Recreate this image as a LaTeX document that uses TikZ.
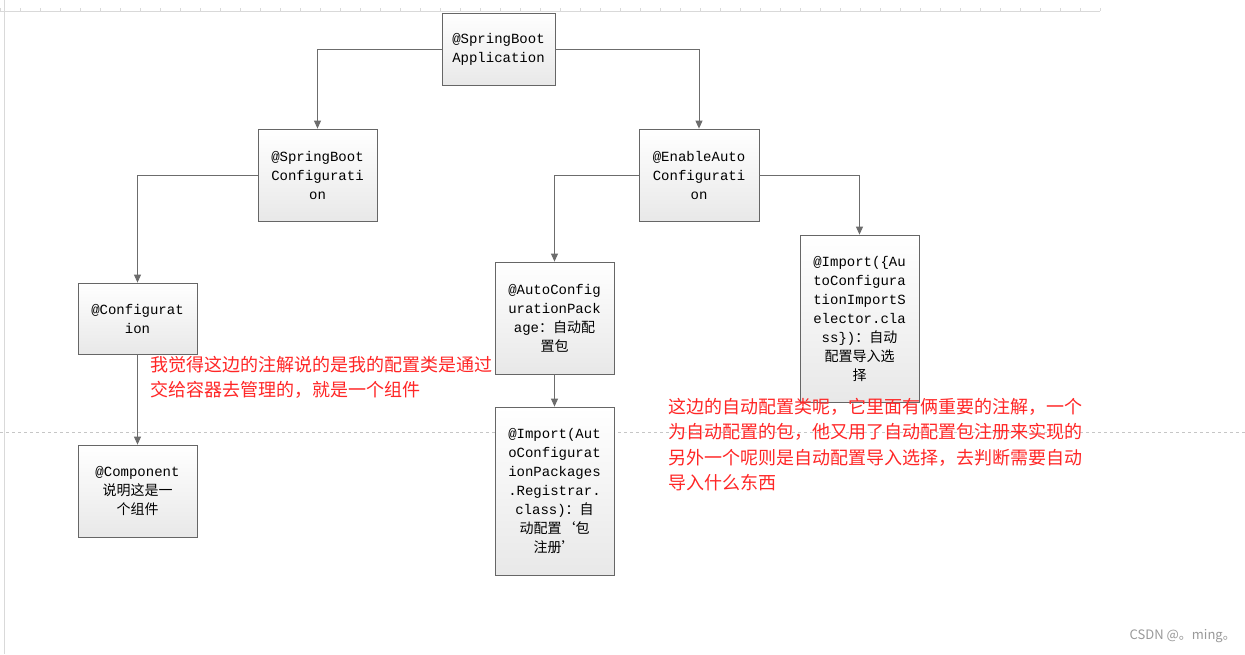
\documentclass[tikz,border=0pt]{standalone}
\usepackage{fontspec}
\setmonofont{Liberation Mono}
\newfontfamily\cjk{Noto Sans CJK SC}
\usetikzlibrary{arrows.meta}
\begin{document}
\begin{tikzpicture}[x=1pt,y=-1pt,
  box/.style={draw=gray!80!black,line width=0.8pt,top color=white,bottom color=gray!18,
    inner sep=0pt,align=center,font=\fontsize{14}{19}\selectfont\ttfamily},
  link/.style={draw=gray!85!black,line width=0.9pt,-{Triangle[length=8pt,width=7pt]}},
  note/.style={text=red!85,font=\fontsize{18}{25.5}\selectfont\cjk,align=left,anchor=north west,inner sep=0pt}]
\useasboundingbox (0,0) rectangle (1245,654);
\fill[white] (0,0) rectangle (1245,654);
\draw[gray!30] (0,11) -- (1100,11);
\foreach \i in {0,20,...,1100} \draw[gray!30] (\i,8) -- (\i,11);
\draw[gray!30] (4,0) -- (4,654);
\draw[gray!45,dashed] (0,432) -- (1245,432);
\node[box,minimum width=113pt,minimum height=72pt] (A) at (498.5,49) {@SpringBoot\\Application};
\node[box,minimum width=119pt,minimum height=92pt] (B) at (317.5,175) {@SpringBoot\\Configurati\\on};
\node[box,minimum width=120pt,minimum height=92pt] (C) at (699,175) {@EnableAuto\\Configurati\\on};
\node[box,minimum width=119pt,minimum height=71pt] (D) at (137.5,318.5) {@Configurat\\ion};
\node[box,minimum width=119pt,minimum height=112pt] (E) at (554.5,318) {@AutoConfig\\urationPack\\age{\cjk ：自动配}\\{\cjk 置包}};
\node[box,minimum width=119pt,minimum height=167pt] (F) at (859.5,318.5) {@Import(\{Au\\toConfigura\\tionImportS\\elector.cla\\ss\})\cjk：自动\\\cjk 配置导入选\\\cjk 择};
\node[box,minimum width=119pt,minimum height=92pt] (G) at (137.5,491) {@Component\\\cjk 说明这是一\\\cjk 个组件};
\node[box,minimum width=119pt,minimum height=168pt] (H) at (554.5,491) {@Import(Aut\\oConfigurat\\ionPackages\\.Registrar.\\class)\cjk：自\\\cjk 动配置‘包\\\cjk 注册’};
\draw[link] (A.west) -| (B.north);
\draw[link] (A.east) -| (C.north);
\draw[link] (B.west) -| (D.north);
\draw[link] (C.west) -| (E.north);
\draw[link] (C.east) -| (F.north);
\draw[link] (D) -- (G);
\draw[link] (E) -- (H);
\node[note] (n1) at (150,356) {我觉得这边的注解说的是我的配置类是通过\\交给容器去管理的，就是一个组件};
\node[note] (n2) at (668,398) {这边的自动配置类呢，它里面有俩重要的注解，一个\\为自动配置的包，他又用了自动配置包注册来实现的\\另外一个呢则是自动配置导入选择，去判断需要自动\\导入什么东西};
\node[anchor=east,text=gray!80,font=\fontsize{13}{13}\selectfont\cjk,inner sep=0pt] (wm) at (1236,636) {CSDN @。ming。};
\end{tikzpicture}
\end{document}
